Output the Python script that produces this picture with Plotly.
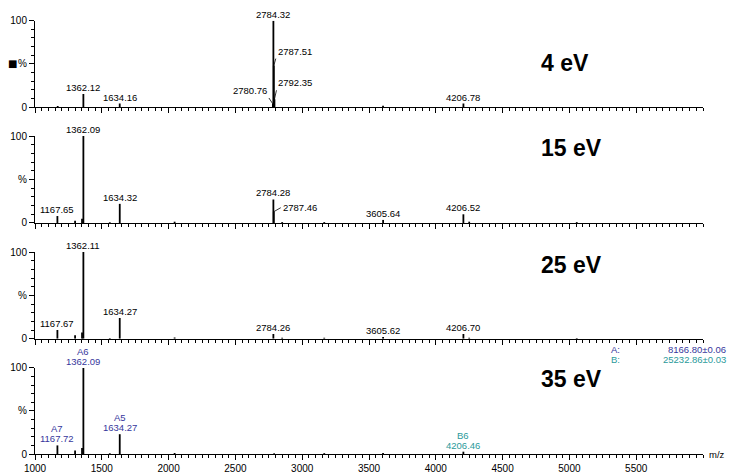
import plotly.graph_objects as go

# ---------------- data ----------------
energies = ["4 eV", "15 eV", "25 eV", "35 eV"]

p1_mz  = [1170, 1362.12, 1634.16, 2780.76, 2784.32, 2787.51, 2792.35, 3605, 4206.78]
p1_int = [1.2, 15, 4, 3.5, 100, 48, 9, 1.5, 4]
p1_lab = ["", "1362.12", "1634.16", "2780.76", "2784.32", "2787.51", "2792.35", "", "4206.78"]

p2_mz  = [1167.65, 1300, 1352, 1362.09, 1560, 1634.32, 2045, 2784.28, 2787.46, 2850, 3165, 3605.64, 4206.52, 4250, 5055]
p2_int = [8, 2.5, 5, 100, 0.8, 22, 1.5, 27, 13, 1, 1, 3.5, 10, 1.5, 1]
p2_lab = ["1167.65", "", "", "1362.09", "", "1634.32", "", "2784.28", "2787.46", "", "", "3605.64", "4206.52", "", ""]

p3_mz  = [1167.67, 1300, 1352, 1362.11, 1560, 1634.27, 2045, 2784.26, 2850, 3165, 3605.62, 4206.70, 4250, 5055]
p3_int = [10, 4, 7, 100, 0.8, 24, 1.5, 5.5, 1, 1, 2, 5.5, 1, 0.8]
p3_lab = ["1167.67", "", "", "1362.11", "", "1634.27", "", "2784.26", "", "", "3605.62", "4206.70", "", ""]

p4_mz  = [1167.72, 1300, 1352, 1362.09, 1560, 1634.27, 2045, 2790, 3165, 3605, 4206.46]
p4_int = [10, 4, 7, 100, 0.8, 23, 1.2, 0.8, 1, 1.2, 2.7]
p4_lab = ["1167.72", "", "", "1362.09", "", "1634.27", "", "", "", "", "4206.46"]
p4_ion = ["A7", "", "", "A6", "", "A5", "", "", "", "", "B6"]

mass_series = ["A:", "B:"]
mass_values = ["8166.80±0.06", "25232.86±0.03"]

x_ticks = [1000, 1500, 2000, 2500, 3000, 3500, 4000, 4500, 5000, 5500]

# ---------------- style ----------------
FONT = "Arial, Liberation Sans, sans-serif"
COL_A = "#36369c"
COL_B = "#2a9a9a"
ion_color = {"A": COL_A, "B": COL_B}

panels = [
    (p1_mz, p1_int, p1_lab, None),
    (p2_mz, p2_int, p2_lab, None),
    (p3_mz, p3_int, p3_lab, None),
    (p4_mz, p4_int, p4_lab, p4_ion),
]
domains = [[0.7995, 0.9984], [0.5323, 0.7327], [0.2657, 0.4654], [0.0, 0.1982]]
energy_y = [51, 86, 85, 87]

# leader-line labels: (ax, ay, xanchor, yanchor)
leaders = {
    (0, "2787.51"): (2, -7, "left", "bottom"),
    (0, "2792.35"): (2, -9, "left", "bottom"),
    (0, "2780.76"): (-4, -6, "right", "bottom"),
    (1, "2787.46"): (7, -4, "left", "middle"),
}

fig = go.Figure()
annotations = []
layout = {}

for i, (mz, inten, lab, ion) in enumerate(panels):
    n = "" if i == 0 else str(i + 1)
    xs, ys = [], []
    for m, v in zip(mz, inten):
        xs += [m, m, None]
        ys += [0, v, None]
    fig.add_trace(go.Scatter(x=xs, y=ys, mode="lines",
                             line=dict(color="black", width=1.8),
                             hoverinfo="skip", showlegend=False,
                             xaxis="x" + n, yaxis="y" + n))

    layout["xaxis" + n] = dict(
        domain=[0, 1], anchor="y" + n, range=[1000, 6000], automargin=False,
        showline=True, linecolor="black", linewidth=1,
        ticks="outside", tickvals=x_ticks, ticklen=5, tickcolor="black", tickwidth=1,
        showticklabels=(i == 3), showgrid=False, zeroline=False,
        minor=dict(dtick=50, tick0=1000, ticks="outside", ticklen=3,
                   tickcolor="black", tickwidth=1, showgrid=False),
        tickfont=dict(family=FONT, size=10, color="black"),
    )
    layout["yaxis" + n] = dict(
        domain=domains[i], anchor="x" + n, range=[0, 100], automargin=False,
        showline=True, linecolor="black", linewidth=1,
        ticks="outside", tickvals=[0, 50, 100],
        ticktext=["0", "%", "100"],
        ticklen=5, tickcolor="black", tickwidth=1, showgrid=False, zeroline=False,
        minor=dict(dtick=10, tick0=0, ticks="outside", ticklen=3,
                   tickcolor="black", tickwidth=1, showgrid=False),
        tickfont=dict(family=FONT, size=10, color="black"),
    )

    # energy label
    annotations.append(dict(
        x=0.7545, xref="paper", y=energy_y[i], yref="y" + n,
        text="<b>%s</b>" % energies[i], showarrow=False,
        xanchor="left", yanchor="middle",
        font=dict(family=FONT, size=23, color="black")))

    for k, (m, v, t) in enumerate(zip(mz, inten, lab)):
        if not t:
            continue
        color = "black"
        if ion is not None and ion[k]:
            color = ion_color[ion[k][0]]
        key = (i, t)
        if key in leaders:
            ax, ay, xa, ya = leaders[key]
            annotations.append(dict(
                x=m, y=v, xref="x" + n, yref="y" + n, text=t,
                showarrow=True, arrowhead=0, arrowwidth=0.8, arrowcolor="black",
                ax=ax, ay=ay, xanchor=xa, yanchor=ya, standoff=0,
                font=dict(family=FONT, size=9.5, color=color)))
        else:
            annotations.append(dict(
                x=m, y=v, xref="x" + n, yref="y" + n, text=t,
                showarrow=False, xanchor="center", yanchor="bottom", yshift=-1,
                font=dict(family=FONT, size=9.5, color=color)))
            if ion is not None and ion[k]:
                annotations.append(dict(
                    x=m, y=v, xref="x" + n, yref="y" + n, text=ion[k],
                    showarrow=False, xanchor="center", yanchor="bottom", yshift=9,
                    font=dict(family=FONT, size=9.5, color=color)))

# small black square marker beside the top-panel "%" label
annotations.append(dict(x=(13 - 35) / 668, xref="paper", y=50, yref="y",
                        text="■", showarrow=False, xanchor="center", yanchor="middle",
                        font=dict(family="DejaVu Sans", size=10, color="black")))

# mass summary (top right of last panel)
for j, (s, val) in enumerate(zip(mass_series, mass_values)):
    col = COL_A if j == 0 else COL_B
    yy = (454 - 349 - 10.5 * j) / 434
    annotations.append(dict(x=(609 - 35) / 668, xref="paper", y=yy,
                            yref="paper", text=s, showarrow=False,
                            xanchor="left", yanchor="middle",
                            font=dict(family=FONT, size=9.5, color=col)))
    annotations.append(dict(x=(728 - 35) / 668, xref="paper", y=yy,
                            yref="paper", text=val, showarrow=False,
                            xanchor="right", yanchor="middle",
                            font=dict(family=FONT, size=9.5, color=col)))

annotations.append(dict(x=(707 - 35) / 668, xref="paper", y=(454 - 454) / 434, yref="paper",
                        text="m/z", showarrow=False, xanchor="left", yanchor="middle",
                        font=dict(family=FONT, size=9.5, color="black")))

fig.update_layout(
    width=729, height=474,
    margin=dict(l=35, r=26, t=20, b=20, autoexpand=False),
    paper_bgcolor="white", plot_bgcolor="white",
    font=dict(family=FONT, size=10, color="black"),
    annotations=annotations,
    **layout,
)

fig.write_html("out.html", config={"displayModeBar": False},
               post_script="document.body.style.margin='0';document.body.style.padding='0';")
